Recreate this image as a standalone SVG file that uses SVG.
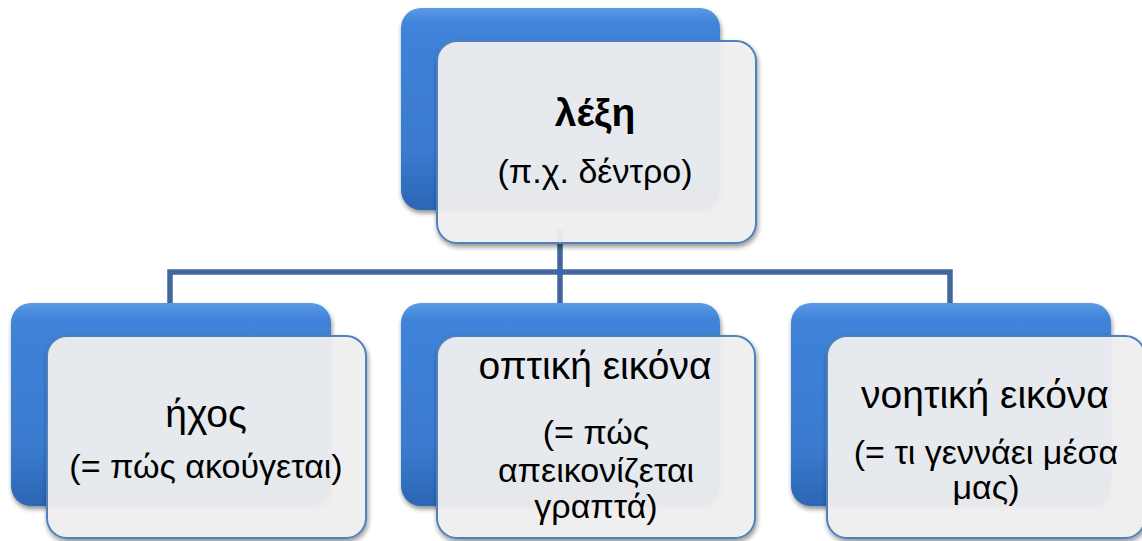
<svg xmlns="http://www.w3.org/2000/svg" width="1142" height="541" viewBox="0 0 1142 541">
<defs>
<linearGradient id="blueG" x1="0" y1="0" x2="0" y2="1">
<stop offset="0" stop-color="#5b9ae6"/>
<stop offset="0.08" stop-color="#3f83d8"/>
<stop offset="0.7" stop-color="#3a7bd0"/>
<stop offset="1" stop-color="#2c66b4"/>
</linearGradient>
<filter id="sh" x="-10%" y="-10%" width="130%" height="130%">
<feGaussianBlur in="SourceAlpha" stdDeviation="2.5"/>
<feOffset dx="1" dy="3" result="b"/>
<feComponentTransfer><feFuncA type="linear" slope="0.45"/></feComponentTransfer>
<feMerge><feMergeNode/><feMergeNode in="SourceGraphic"/></feMerge>
</filter>
</defs>
<style>
.back{fill:url(#blueG);filter:url(#sh)}
.front{fill:#f2f2f2;fill-opacity:0.92;stroke:#4f81bd;stroke-width:2;filter:url(#sh)}
.conn{fill:none;stroke:#41689c;stroke-width:5.5}
text{font-family:"Liberation Sans",Arial,sans-serif;fill:#000;text-anchor:middle;font-size:34px}
.t{font-size:39px}
.b{font-weight:bold;font-size:39px}
</style>
<g id="connectors">
<path class="conn" d="M560 230 V272 M170 303 V272 H950 V303 M560 272 V303"/>
</g>
<g id="node-lexi">
<rect class="back" x="401" y="8" width="319" height="202" rx="20"/>
<rect class="front" x="437" y="41" width="319" height="202" rx="20"/>
<text class="b" x="595" y="126">λέξη</text>
<text x="595" y="183">(π.χ. δέντρο)</text>
</g>
<g id="node-ixos">
<rect class="back" x="11" y="303" width="320" height="203" rx="20"/>
<rect class="front" x="47" y="336" width="319" height="202" rx="20"/>
<text class="t" x="206" y="427">ήχος</text>
<text x="206" y="478">(= πώς ακούγεται)</text>
</g>
<g id="node-optiki">
<rect class="back" x="401" y="303" width="319" height="203" rx="20"/>
<rect class="front" x="437" y="336" width="318" height="202" rx="20"/>
<text class="t" x="595" y="379">οπτική εικόνα</text>
<text x="596" y="444">(= πώς</text>
<text x="596" y="482">απεικονίζεται</text>
<text x="596" y="518">γραπτά)</text>
</g>
<g id="node-noitiki">
<rect class="back" x="791" y="303" width="320" height="203" rx="20"/>
<rect class="front" x="827" y="336" width="318" height="202" rx="20"/>
<text class="t" x="985" y="408">νοητική εικόνα</text>
<text x="986" y="464">(= τι γεννάει μέσα</text>
<text x="986" y="499">μας)</text>
</g>
</svg>
